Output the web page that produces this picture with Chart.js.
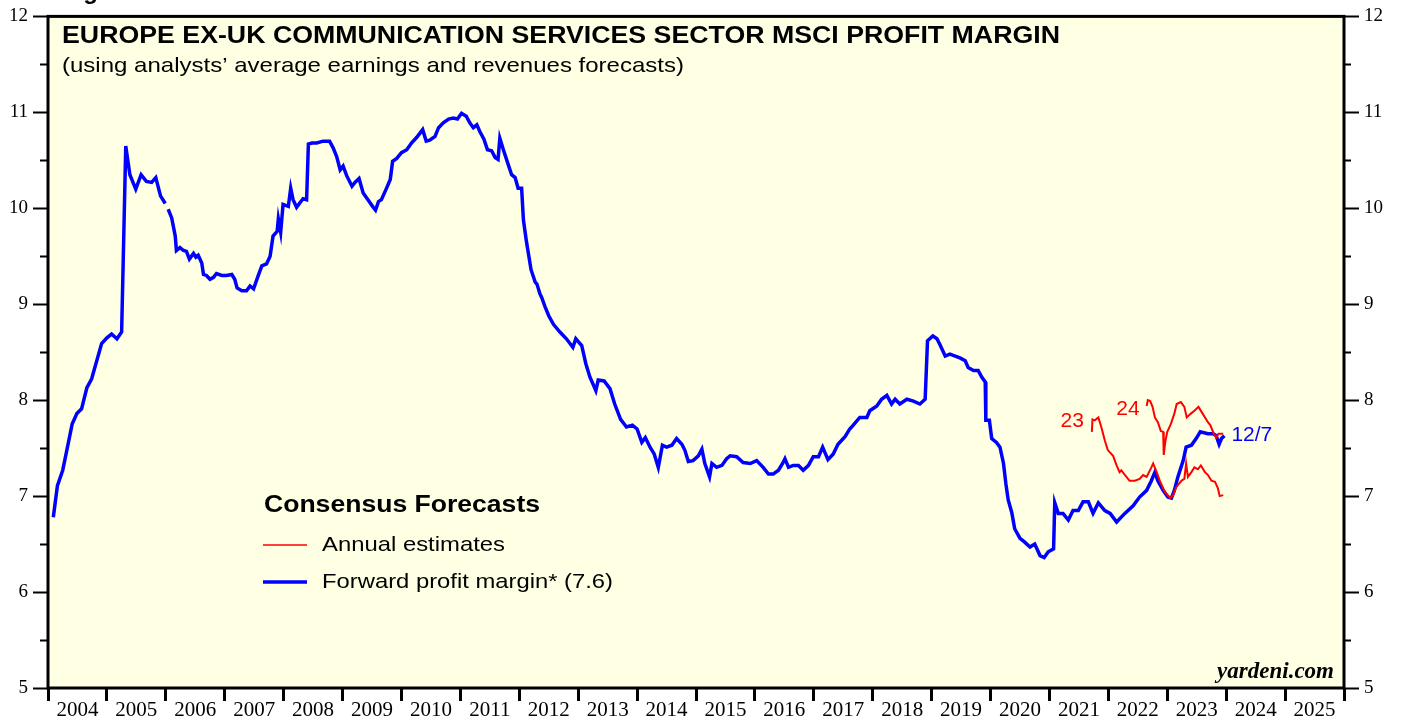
<!DOCTYPE html>
<html>
<head>
<meta charset="utf-8">
<script src="https://cdn.jsdelivr.net/npm/chart.js@4.4.0/dist/chart.umd.min.js"></script>
<style>
  body { margin: 0; background: #fff; }
  #wrap { width: 1403px; height: 717px; }
</style>
</head>
<body>
<div id="wrap"><canvas id="marginChart" width="1403" height="717"></canvas></div>
<script>
// forward profit margin (weekly-ish readings, fractional years)
const fwdYears = [
  2004.09, 2004.16, 2004.25, 2004.32, 2004.41, 2004.49, 2004.57, 2004.66, 2004.74, 2004.91,
  2005.00, 2005.08, 2005.17, 2005.25, 2005.32, 2005.39, 2005.49, 2005.58, 2005.67, 2005.76,
  2005.83, 2005.91, 2005.99, 2006.01, 2006.04, 2006.10, 2006.16, 2006.18, 2006.24, 2006.30,
  2006.35, 2006.40, 2006.47, 2006.51, 2006.55, 2006.61, 2006.64, 2006.69, 2006.75, 2006.81,
  2006.86, 2006.95, 2007.03, 2007.12, 2007.17, 2007.21, 2007.29, 2007.37, 2007.43, 2007.49,
  2007.57, 2007.63, 2007.71, 2007.77, 2007.82, 2007.89, 2007.91, 2007.95, 2007.99, 2008.08,
  2008.12, 2008.16, 2008.22, 2008.28, 2008.33, 2008.39, 2008.42, 2008.48, 2008.56, 2008.67,
  2008.78, 2008.84, 2008.90, 2008.96, 2009.01, 2009.07, 2009.16, 2009.21, 2009.28, 2009.35,
  2009.44, 2009.51, 2009.56, 2009.61, 2009.66, 2009.74, 2009.81, 2009.85, 2009.92, 2010.00,
  2010.09, 2010.17, 2010.26, 2010.36, 2010.42, 2010.48, 2010.57, 2010.63, 2010.71, 2010.80,
  2010.88, 2010.95, 2011.02, 2011.10, 2011.16, 2011.22, 2011.28, 2011.33, 2011.40, 2011.46,
  2011.53, 2011.59, 2011.64, 2011.67, 2011.73, 2011.81, 2011.87, 2011.93, 2011.98, 2012.04,
  2012.07, 2012.12, 2012.20, 2012.27, 2012.30, 2012.35, 2012.38, 2012.44, 2012.50, 2012.58,
  2012.69, 2012.80, 2012.91, 2012.96, 2013.06, 2013.13, 2013.20, 2013.30, 2013.34, 2013.44,
  2013.54, 2013.62, 2013.72, 2013.82, 2013.92, 2014.00, 2014.08, 2014.14, 2014.22, 2014.29,
  2014.36, 2014.43, 2014.50, 2014.59, 2014.67, 2014.76, 2014.81, 2014.87, 2014.95, 2015.04,
  2015.10, 2015.15, 2015.23, 2015.27, 2015.35, 2015.44, 2015.52, 2015.58, 2015.69, 2015.80,
  2015.92, 2016.03, 2016.14, 2016.23, 2016.31, 2016.40, 2016.47, 2016.51, 2016.57, 2016.65,
  2016.74, 2016.82, 2016.91, 2016.99, 2017.08, 2017.15, 2017.24, 2017.33, 2017.41, 2017.53,
  2017.61, 2017.67, 2017.78, 2017.90, 2017.95, 2018.07, 2018.15, 2018.24, 2018.32, 2018.38,
  2018.46, 2018.58, 2018.69, 2018.80, 2018.89, 2018.93, 2019.02, 2019.09, 2019.14, 2019.23,
  2019.31, 2019.40, 2019.48, 2019.57, 2019.62, 2019.71, 2019.79, 2019.85, 2019.91, 2019.92,
  2019.98, 2020.02, 2020.10, 2020.16, 2020.22, 2020.26, 2020.30, 2020.36, 2020.41, 2020.50,
  2020.58, 2020.67, 2020.75, 2020.84, 2020.91, 2020.98, 2021.07, 2021.09, 2021.15, 2021.23,
  2021.32, 2021.40, 2021.49, 2021.57, 2021.66, 2021.74, 2021.83, 2021.94, 2022.03, 2022.14,
  2022.28, 2022.42, 2022.53, 2022.65, 2022.73, 2022.79, 2022.84, 2022.93, 2023.01, 2023.07,
  2023.12, 2023.18, 2023.27, 2023.32, 2023.41, 2023.49, 2023.56, 2023.69, 2023.78, 2023.83,
  2023.88, 2023.92, 2023.97
];
const fwdValues = [
  6.78, 7.11, 7.27, 7.48, 7.75, 7.86, 7.91, 8.13, 8.22, 8.59,
  8.65, 8.69, 8.64, 8.71, 10.65, 10.35, 10.20, 10.35, 10.28, 10.27,
  10.32, 10.13, 10.05, null, 9.99, 9.90, 9.71, 9.56, 9.59, 9.56,
  9.55, 9.47, 9.53, 9.49, 9.51, 9.43, 9.31, 9.30, 9.26, 9.28,
  9.32, 9.30, 9.30, 9.31, 9.26, 9.17, 9.14, 9.14, 9.19, 9.16,
  9.30, 9.40, 9.42, 9.50, 9.71, 9.76, 9.89, 9.75, 10.04, 10.02,
  10.21, 10.09, 10.01, 10.06, 10.10, 10.09, 10.67, 10.68, 10.68, 10.70,
  10.70, 10.63, 10.54, 10.40, 10.44, 10.34, 10.23, 10.27, 10.31, 10.16,
  10.08, 10.02, 9.98, 10.07, 10.09, 10.20, 10.30, 10.49, 10.52, 10.58,
  10.61, 10.68, 10.74, 10.82, 10.70, 10.71, 10.75, 10.84, 10.89, 10.93,
  10.94, 10.93, 10.99, 10.96, 10.89, 10.84, 10.87, 10.80, 10.72, 10.61,
  10.60, 10.53, 10.51, 10.73, 10.61, 10.46, 10.35, 10.32, 10.21, 10.21,
  9.88, 9.66, 9.36, 9.23, 9.21, 9.11, 9.07, 8.97, 8.88, 8.79,
  8.71, 8.64, 8.55, 8.64, 8.57, 8.38, 8.24, 8.10, 8.21, 8.20,
  8.12, 7.96, 7.80, 7.72, 7.74, 7.70, 7.56, 7.61, 7.51, 7.44,
  7.30, 7.53, 7.51, 7.53, 7.60, 7.54, 7.48, 7.36, 7.37, 7.42,
  7.49, 7.34, 7.20, 7.34, 7.30, 7.32, 7.39, 7.42, 7.41, 7.35,
  7.34, 7.37, 7.30, 7.23, 7.23, 7.27, 7.34, 7.39, 7.30, 7.32,
  7.32, 7.27, 7.32, 7.41, 7.41, 7.51, 7.38, 7.44, 7.54, 7.62,
  7.70, 7.74, 7.82, 7.82, 7.89, 7.94, 8.01, 8.05, 7.96, 8.01,
  7.96, 8.01, 7.99, 7.96, 8.01, 8.62, 8.67, 8.64, 8.58, 8.46,
  8.48, 8.46, 8.44, 8.41, 8.34, 8.31, 8.31, 8.24, 8.19, 7.79,
  7.79, 7.60, 7.56, 7.51, 7.34, 7.13, 6.96, 6.83, 6.66, 6.56,
  6.52, 6.47, 6.50, 6.38, 6.36, 6.42, 6.45, 6.93, 6.82, 6.82,
  6.75, 6.85, 6.85, 6.94, 6.94, 6.82, 6.93, 6.85, 6.82, 6.73,
  6.82, 6.90, 6.99, 7.06, 7.16, 7.25, 7.16, 7.06, 6.99, 6.98,
  7.06, 7.20, 7.37, 7.51, 7.53, 7.60, 7.67, 7.65, 7.65, 7.63,
  7.54, 7.60, 7.63
];

// annual estimates for 2023
const est23Years = [
  2021.72, 2021.73, 2021.77, 2021.83, 2021.88, 2021.94, 2021.99, 2022.08, 2022.14, 2022.19,
  2022.22, 2022.28, 2022.36, 2022.45, 2022.53, 2022.59, 2022.65, 2022.73, 2022.76, 2022.82,
  2022.88, 2022.96, 2023.05, 2023.10, 2023.15, 2023.24, 2023.29, 2023.32, 2023.35, 2023.41,
  2023.46, 2023.52, 2023.57, 2023.64, 2023.69, 2023.75, 2023.81, 2023.86, 2023.89, 2023.95
];
const est23Values = [
  7.67, 7.80, 7.79, 7.82, 7.72, 7.58, 7.48, 7.42, 7.32, 7.25,
  7.27, 7.22, 7.16, 7.16, 7.18, 7.22, 7.20, 7.30, 7.34, 7.25,
  7.15, 7.04, 6.98, 7.01, 7.09, 7.16, 7.18, 7.34, 7.20, 7.25,
  7.30, 7.28, 7.32, 7.25, 7.22, 7.16, 7.15, 7.08, 7.00, 7.01
];

// annual estimates for 2024
const est24Years = [
  2022.65, 2022.67, 2022.71, 2022.75, 2022.79, 2022.84, 2022.89, 2022.93, 2022.94, 2022.97,
  2023.00, 2023.06, 2023.12, 2023.16, 2023.23, 2023.29, 2023.33, 2023.40, 2023.46, 2023.53,
  2023.60, 2023.69, 2023.73, 2023.79, 2023.83, 2023.87, 2023.95
];
const est24Values = [
  7.94, 8.00, 7.99, 7.93, 7.82, 7.77, 7.68, 7.67, 7.43, 7.58,
  7.67, 7.75, 7.86, 7.96, 7.98, 7.93, 7.82, 7.86, 7.89, 7.93,
  7.86, 7.77, 7.74, 7.65, 7.61, 7.65, 7.65
];

const firstYear = 2004;
const lastYear = 2025;
const yMin = 5;
const yMax = 12;

const sans = '"Liberation Sans", Arial, sans-serif';
const serif = '"Liberation Serif", "Times New Roman", serif';

function toPoints(xs, ys) {
  return xs.map((x, i) => ({ x: x, y: ys[i] }));
}

// draw text stretched sideways to a given width (the original type is wide)
function fitText(ctx, text, x, y, width) {
  const w = ctx.measureText(text).width;
  ctx.save();
  ctx.translate(x, y);
  ctx.scale(width / w, 1);
  ctx.fillText(text, 0, 0);
  ctx.restore();
}

// yellow plot background + black frame
const frame = {
  id: 'frame',
  beforeDraw(chart) {
    const a = chart.chartArea;
    const ctx = chart.ctx;
    ctx.save();
    ctx.fillStyle = '#FFFFE3';
    ctx.fillRect(a.left, a.top, a.right - a.left, a.bottom - a.top);
    ctx.restore();
  },
  afterDraw(chart) {
    const a = chart.chartArea;
    const ctx = chart.ctx;
    ctx.save();
    ctx.strokeStyle = '#000';
    ctx.lineWidth = 3;
    ctx.strokeRect(a.left, a.top, a.right - a.left, a.bottom - a.top);
    ctx.restore();
  }
};

// title, legend, series labels
const notes = {
  id: 'notes',
  afterDraw(chart) {
    const ctx = chart.ctx;
    const xs = chart.scales.x;
    const ys = chart.scales.y;
    ctx.save();
    ctx.textBaseline = 'middle';
    ctx.textAlign = 'left';

    ctx.fillStyle = '#000';
    ctx.font = 'bold 24px ' + sans;
    ctx.fillText('Figure 3.', 62, -8);

    ctx.font = 'bold 24px ' + sans;
    fitText(ctx, 'EUROPE EX-UK COMMUNICATION SERVICES SECTOR MSCI PROFIT MARGIN', 62, 36, 998);
    ctx.font = '21px ' + sans;
    fitText(ctx, '(using analysts\u2019 average earnings and revenues forecasts)', 62, 66, 622);

    // legend
    ctx.font = 'bold 23px ' + sans;
    fitText(ctx, 'Consensus Forecasts', 264, 506, 276);
    ctx.font = '21px ' + sans;
    fitText(ctx, 'Annual estimates', 322, 545, 183);
    fitText(ctx, 'Forward profit margin* (7.6)', 322, 582, 291);
    ctx.strokeStyle = '#FF0000';
    ctx.lineWidth = 1.5;
    ctx.beginPath(); ctx.moveTo(263, 545); ctx.lineTo(307, 545); ctx.stroke();
    ctx.strokeStyle = '#0000FF';
    ctx.lineWidth = 3.5;
    ctx.beginPath(); ctx.moveTo(263, 582); ctx.lineTo(307, 582); ctx.stroke();

    // series labels next to their lines
    ctx.font = '21px ' + sans;
    ctx.fillStyle = '#FF0000';
    ctx.textAlign = 'right';
    ctx.fillText('23', xs.getPixelForValue(est23Years[0]) - 8, ys.getPixelForValue(est23Values[1]) + 2);
    ctx.fillText('24', xs.getPixelForValue(est24Years[0]) - 7, ys.getPixelForValue(est24Values[1]) + 9);
    ctx.fillStyle = '#0000FF';
    ctx.textAlign = 'left';
    const n = fwdYears.length - 1;
    ctx.fillText('12/7', xs.getPixelForValue(fwdYears[n]) + 7, ys.getPixelForValue(fwdValues[n]));

    ctx.fillStyle = '#000';
    ctx.textAlign = 'right';
    ctx.font = 'bold italic 23px ' + serif;
    ctx.fillText('yardeni.com', chart.chartArea.right - 10, 672);
    ctx.restore();
  }
};

function yTicks(scale) {
  const t = [];
  for (let v = yMin; v <= yMax + 0.001; v += 0.5) t.push({ value: v });
  scale.ticks = t;
}

function yAxis(position, width, minorDash) {
  return {
    type: 'linear',
    position: position,
    min: yMin,
    max: yMax,
    afterBuildTicks: yTicks,
    afterFit: s => { s.width = width; },
    border: { display: false },
    grid: {
      drawOnChartArea: false,
      tickLength: 15,
      tickWidth: 2,
      tickColor: '#000',
      tickBorderDash: ctx => (ctx.tick && Number.isInteger(ctx.tick.value)) ? [] : minorDash
    },
    ticks: {
      padding: 5,
      color: '#000',
      font: { family: serif, size: 19 },
      callback: v => Number.isInteger(v) ? String(v) : ''
    }
  };
}

new Chart(document.getElementById('marginChart').getContext('2d'), {
  type: 'line',
  data: {
    datasets: [
      {
        label: 'Annual estimates 2023',
        data: toPoints(est23Years, est23Values),
        borderColor: '#FF0000',
        borderWidth: 2,
        pointRadius: 0,
        tension: 0
      },
      {
        label: 'Annual estimates 2024',
        data: toPoints(est24Years, est24Values),
        borderColor: '#FF0000',
        borderWidth: 2,
        pointRadius: 0,
        tension: 0
      },
      {
        label: 'Forward profit margin',
        data: toPoints(fwdYears, fwdValues),
        borderColor: '#0000FF',
        borderWidth: 3.5,
        pointRadius: 0,
        tension: 0,
        spanGaps: false
      }
    ]
  },
  options: {
    responsive: false, // fixed canvas size
    animation: false,
    layout: { padding: { top: 15, left: 0, right: 0, bottom: 0 } },
    plugins: {
      legend: { display: false },
      tooltip: { enabled: false }
    },
    scales: {
      x: {
        type: 'linear',
        min: firstYear,
        max: lastYear + 1,
        afterBuildTicks: scale => {
          const t = [];
          for (let y = firstYear; y <= lastYear + 1; y++) {
            t.push({ value: y });
            if (y <= lastYear) t.push({ value: y + 0.5 });
          }
          scale.ticks = t;
        },
        afterFit: s => { s.height = 29; },
        border: { display: false },
        grid: {
          drawOnChartArea: false,
          tickLength: 13,
          tickWidth: 3,
          tickColor: ctx => (ctx.tick && Number.isInteger(ctx.tick.value)) ? '#000' : 'rgba(0,0,0,0)'
        },
        ticks: {
          autoSkip: false,
          maxRotation: 0,
          minRotation: 0,
          padding: -3,
          color: '#000',
          font: { family: serif, size: 21 },
          callback: v => Number.isInteger(v) ? '' : String(Math.floor(v))
        }
      },
      y: yAxis('left', 48, [0, 7, 8, 100]),
      y2: yAxis('right', 59, [7, 100])
    }
  },
  plugins: [frame, notes]
});
</script>
</body>
</html>
